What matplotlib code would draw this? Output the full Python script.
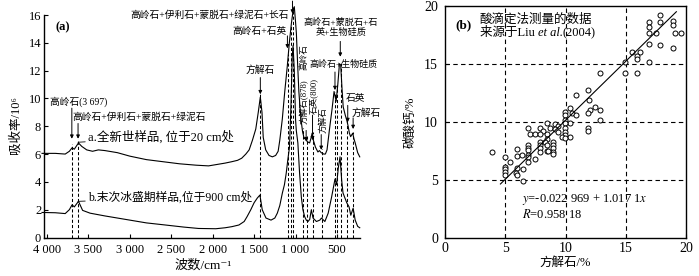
import numpy as np
import matplotlib
matplotlib.use("Agg")
import matplotlib.pyplot as plt

plt.rcParams['font.family'] = ['Liberation Serif', 'Noto Sans CJK SC', 'DejaVu Sans']
plt.rcParams['mathtext.fontset'] = 'stix'
plt.rcParams['axes.unicode_minus'] = False

# ---------------- Panel (a) data: IR spectra ----------------
wave_a = [4060, 3900, 3780, 3730, 3697, 3670, 3620, 3580, 3520, 3450, 3380, 3300, 3150, 3000,
          2800, 2600, 2400, 2200, 2050, 1950, 1850, 1770, 1700, 1650, 1600, 1560, 1520, 1480,
          1450, 1425, 1405, 1390, 1360, 1320, 1280, 1240, 1210, 1190, 1160, 1130, 1100, 1075,
          1050, 1030, 1015, 1000, 990, 975, 960, 945, 930, 915, 895, 878, 860, 830, 815, 800,
          785, 760, 730, 712, 690, 660, 640, 620, 590, 560, 535, 510, 490, 470, 455, 440, 425,
          400, 380, 365, 350, 335, 310, 295, 280, 250, 225]
spec_a = [6.05, 6.05, 6.0, 6.2, 6.45, 6.35, 6.8, 6.55, 6.3, 6.2, 6.3, 6.25, 6.1, 5.85,
          5.6, 5.45, 5.3, 5.2, 5.15, 5.25, 5.35, 5.45, 5.55, 5.7, 6.0, 6.3, 7.0, 7.8,
          9.0, 10.1, 9.0, 7.2, 6.3, 5.9, 5.8, 5.9, 6.2, 7.0, 8.5, 10.5, 12.3, 14.0,
          15.4, 16.3, 16.6, 15.5, 14.7, 12.5, 10.5, 9.3, 8.3, 7.6, 7.1, 7.2, 6.9, 6.8, 7.1, 7.5,
          7.0, 6.5, 6.15, 6.25, 6.1, 6.0, 6.0, 6.3, 7.8, 9.2, 10.5, 9.8, 11.0, 12.5, 12.4, 10.8, 9.4,
          8.8, 8.4, 8.0, 7.5, 7.25, 7.5, 7.1, 6.8, 6.1, 5.8]

wave_b = [4060, 3900, 3780, 3730, 3697, 3670, 3620, 3570, 3480, 3300, 3000, 2800, 2573, 2350,
          2171, 1963, 1850, 1768, 1683, 1620, 1585, 1540, 1500, 1460, 1430, 1402, 1357, 1296,
          1250, 1220, 1190, 1159, 1134, 1113, 1093, 1073, 1055, 1040, 1030, 1015, 1000, 991,
          972, 951, 930, 911, 890, 870, 850, 829, 809, 789, 748, 707, 687, 646, 606, 565, 524,
          504, 484, 463, 443, 427, 382, 354, 333, 305, 280, 250, 225]
spec_b = [1.8, 1.78, 1.72, 2.0, 2.35, 2.2, 2.6, 1.95, 1.75, 1.55, 1.25, 1.05, 0.9, 0.75,
          0.65, 0.63, 0.7, 0.78, 0.9, 1.15, 1.5, 2.0, 2.5, 2.85, 3.05, 2.0, 1.4, 1.25,
          1.4, 1.75, 2.3, 3.2, 3.8, 4.6, 5.6, 6.5, 9.5, 13.0, 13.8, 12.0, 8.5, 7.7,
          6.8, 4.6, 2.9, 2.0, 1.5, 1.25, 1.15, 1.3, 2.0, 1.4, 1.15, 1.25, 1.4, 1.15, 1.75, 2.9, 4.2,
          3.8, 5.0, 5.8, 4.1, 3.2, 2.5, 2.2, 1.6, 2.1, 1.25, 0.8, 0.7]

dashed_waves = [3700, 3625, 1425, 1091, 1059, 1031, 914, 866, 793, 685, 524, 496, 455, 376, 303]

a_xticks = [4000, 3500, 3000, 2500, 2000, 1500, 1000, 500]
a_xticklabels = ['4 000', '3 500', '3 000', '2 500', '2 000', '1 500', '1 000', '500']
a_yticks = [0, 2, 4, 6, 8, 10, 12, 14, 16]

# arrows: (wavenumber, start value, tip value)
arrow_w = [3700, 3625, 1425, 1098, 1037, 872, 795, 690, 460, 524, 370, 305]
arrow_from = [9.3, 8.2, 11.5, 14.5, 17.0, 7.7, 8.8, 7.4, 14.1, 11.9, 9.5, 8.6]
arrow_to = [7.1, 7.1, 10.3, 13.6, 16.1, 6.9, 7.0, 6.3, 13.0, 10.6, 8.3, 7.8]

# ---------------- Panel (b) data: scatter ----------------
calcite = [17.84, 16.95, 17.84, 18.95, 16.95, 18.95, 16.95, 17.5, 19.1, 19.6, 16.95, 17.84, 18.95,
           16.2, 15.5, 15.9, 15.9, 16.9, 14.9, 14.9, 15.96, 12.9, 11.9, 10.9, 11.97, 12.0, 12.45,
           12.9, 11.9, 10.4, 9.96, 10.5, 10.9, 9.96, 12.9, 10.4, 9.96, 9.96, 11.9, 11.9, 9.1, 9.4,
           8.44, 8.7, 9.1, 9.4, 9.96, 9.96, 9.96, 7.9, 8.16, 6.9, 7.05, 7.47, 7.9, 8.44, 9.7, 10.37,
           9.96, 8.44, 7.9, 7.9, 7.9, 7.9, 8.3, 8.44, 9.0, 9.0, 9.0, 9.0, 9.0, 8.44, 8.57,
           6.86, 6.86, 6.86, 6.0, 6.0, 6.36, 6.86, 6.86, 7.47, 6.9, 5.4, 5.0, 3.87, 5.0, 5.0, 5.0,
           5.0, 5.95, 6.5, 5.9, 5.95, 6.45]
caco3 = [19.2, 18.65, 18.65, 18.7, 18.2, 18.35, 17.65, 17.65, 17.65, 17.65, 16.7, 16.6, 16.35,
         16.06, 16.06, 15.7, 15.4, 15.2, 15.2, 14.2, 14.2, 14.2, 12.76, 12.3, 11.9, 11.03, 11.27,
         11.03, 10.8, 11.2, 10.9, 10.75, 10.6, 10.6, 10.2, 9.94, 10.2, 9.9, 9.5, 9.2, 9.83, 9.65,
         9.88, 9.5, 9.37, 9.16, 9.46, 9.16, 8.88, 9.46, 9.22, 9.46, 9.0, 9.0, 9.0, 9.0, 8.74, 8.74,
         8.6, 8.5, 8.3, 8.0, 7.73, 7.44, 8.3, 8.0, 8.3, 8.0, 7.73, 7.44, 7.24, 7.53, 7.53,
         8.0, 7.8, 7.6, 7.65, 7.07, 7.16, 7.16, 7.0, 6.78, 6.52, 6.52, 6.95, 7.44, 6.15, 5.95, 5.72,
         5.43, 6.0, 5.92, 5.63, 5.43, 4.94]
fit_intercept = -0.022969
fit_slope = 1.0171
fit_range = [4.6, 19.2]
b_ticks = [0, 5, 10, 15, 20]

W, H = 699, 276
fig = plt.figure(figsize=(W / 100, H / 100), dpi=100)

def ftext(px, py, s, **kw):
    return fig.text(px / W, 1 - py / H, s, **kw)

# ---------------- Panel (a) ----------------
axA = fig.add_axes([44 / W, 1 - 237.5 / H, 316 / W, 222.5 / H])
axA.plot(wave_a, spec_a, color='k', lw=0.8, clip_on=False)
axA.plot(wave_b, spec_b, color='k', lw=0.8, clip_on=False)
axA.set_xlim(4036, 222)
axA.set_ylim(0, 16)
for s in ['top', 'right']:
    axA.spines[s].set_visible(False)
for s in ['left', 'bottom']:
    axA.spines[s].set_linewidth(1.0)
axA.set_xticks(a_xticks)
axA.set_xticklabels(a_xticklabels)
axA.set_yticks(a_yticks)
axA.tick_params(direction='in', length=3, width=0.8, labelsize=9)
axA.tick_params(axis='x', pad=4.5)
axA.tick_params(axis='y', pad=2)

wa_inc = np.array(wave_a[::-1])
sa_inc = np.array(spec_a[::-1])
for w in dashed_waves:
    top = float(np.interp(w, wa_inc, sa_inc)) + 0.3
    axA.plot([w, w], [0, top], color='k', lw=0.75, ls=(0, (3, 2)), clip_on=False)

for w, f, t in zip(arrow_w, arrow_from, arrow_to):
    axA.annotate('', xy=(w, t), xytext=(w, f),
                 arrowprops=dict(arrowstyle='-|>', color='k', lw=0.7, mutation_scale=5,
                                 shrinkA=0, shrinkB=0), annotation_clip=False)

fs_ann = 7
fs_rot = 6.2
axA.text(3903, 15.1, '(a)', fontsize=9, fontweight='bold', ha='left', va='center')
axA.text(3964, 9.75, '高岭石(3 697)', fontsize=fs_ann, ha='left', va='center')
axA.text(3698, 8.63, '高岭石+伊利石+蒙脱石+绿泥石', fontsize=fs_ann, ha='left', va='center')
axA.annotate('a.全新世样品, 位于20 cm处', xy=(3625, 6.85), xytext=(3505, 7.2),
             fontsize=9, ha='left', va='center',
             arrowprops=dict(arrowstyle='-', color='k', lw=0.6, shrinkA=0, shrinkB=0))
axA.annotate('b.末次冰盛期样品,位于900 cm处', xy=(3625, 2.6), xytext=(3505, 2.85),
             fontsize=8.5, ha='left', va='center',
             arrowprops=dict(arrowstyle='-', color='k', lw=0.6, shrinkA=0, shrinkB=0))
axA.text(1080, 16.0, '高岭石+伊利石+蒙脱石+绿泥石+长石', fontsize=fs_ann, ha='right', va='center',
         clip_on=False)
axA.text(1429, 12.05, '方解石', fontsize=fs_ann, ha='center', va='center')
axA.text(1104, 14.8, '高岭石+石英', fontsize=fs_ann, ha='right', va='center')
axA.text(900, 12.98, '高岭石', fontsize=fs_rot, ha='center', va='center', rotation=90)
axA.text(892, 9.8, '方解石(878)', fontsize=fs_rot, ha='center', va='center', rotation=90)
axA.text(778, 10.2, '石英(800)', fontsize=fs_rot, ha='center', va='center', rotation=90)
axA.text(670, 8.45, '方解石', fontsize=fs_rot, ha='center', va='center', rotation=90)
axA.text(452, 15.1, '高岭石+蒙脱石+石\n英+生物硅质', fontsize=6.6, ha='center', va='center',
         linespacing=1.15)
axA.text(418, 12.48, '高岭石+生物硅质', fontsize=6.5, ha='center', va='center')
axA.text(391, 9.96, '石英', fontsize=fs_ann, ha='left', va='center')
axA.text(319, 8.96, '方解石', fontsize=fs_ann, ha='left', va='center', clip_on=False)

ftext(203, 265, '波数/cm\u207b\u00b9', fontsize=9.5, ha='center', va='center')
ftext(15, 125, '吸收率/10\u2076', fontsize=9, ha='center', va='center', rotation=90)

# ---------------- Panel (b) ----------------
axB = fig.add_axes([445 / W, 1 - 238 / H, 241 / W, 232 / H])
axB.set_xlim(0, 20)
axB.set_ylim(0, 20)
axB.set_xticks(b_ticks)
axB.set_yticks(b_ticks)
axB.tick_params(direction='in', length=3, width=0.8, labelsize=10)
axB.tick_params(axis='x', pad=3)
axB.tick_params(axis='y', pad=5)
for s in axB.spines.values():
    s.set_linewidth(1.0)
for v in b_ticks[1:-1]:
    axB.axvline(v, color='k', lw=0.8, ls=(0, (4, 3)))
    axB.axhline(v, color='k', lw=0.8, ls=(0, (4, 3)))
axB.plot(calcite, caco3, ls='none', marker='o', ms=3.6, mfc='white', mec='k', mew=0.7)
fx = np.array(fit_range)
axB.plot(fx, fit_intercept + fit_slope * fx, color='k', lw=0.8)

axB.text(0.83, 18.36, '(b)', fontsize=9.5, fontweight='bold', ha='left', va='center')
axB.text(2.9, 18.8, '酸滴定法测量的数据', fontsize=9, ha='left', va='center')
t1 = axB.text(2.9, 17.67, '来源于Liu ', fontsize=9, ha='left', va='center')
t2 = axB.annotate('et al.', xy=(1, 0), xycoords=t1, fontsize=9, style='italic',
                  ha='left', va='bottom')
axB.annotate('(2004)', xy=(1, 0), xycoords=t2, fontsize=9, ha='left', va='bottom')
axB.text(6.37, 3.3, '$y$=-0.022 969 + 1.017 1$x$', fontsize=9, ha='left', va='center')
axB.text(6.37, 2.0, '$R$=0.958 18', fontsize=9, ha='left', va='center')

ftext(565, 263, '方解石/%', fontsize=9, ha='center', va='center')
ftext(411, 122, '碳酸钙/%', fontsize=9, ha='center', va='center', rotation=90)

fig.savefig('out.png', dpi=100)
